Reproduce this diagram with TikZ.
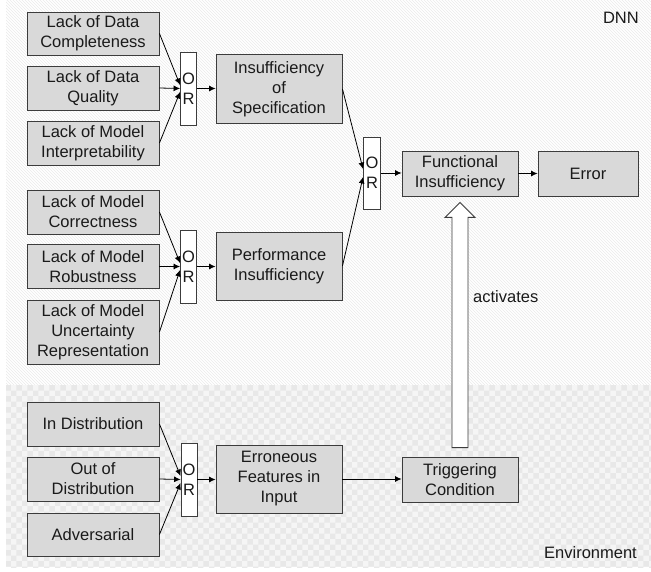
\documentclass[tikz,border=0pt]{standalone}
\usepackage{fontspec}
\setmainfont{Liberation Sans}
\usetikzlibrary{arrows.meta,patterns,calc}
\definecolor{boxfill}{HTML}{D9D9D9}
\definecolor{boxline}{HTML}{3C3C3C}
\definecolor{txt}{HTML}{1A1A1A}
\begin{document}
\begin{tikzpicture}[x=1pt,y=-1pt,
  every node/.style={font=\fontsize{16.5}{20}\selectfont, text=txt},
  cause/.style={draw=boxline, line width=0.9pt, fill=boxfill, rectangle,
    align=center, inner sep=0pt, minimum width=132pt, minimum height=44pt},
  midbox/.style={cause, minimum width=126pt, minimum height=68pt},
  topbox/.style={cause, minimum width=116pt, minimum height=45pt},
  orgate/.style={draw=boxline, line width=0.9pt, fill=white, rectangle,
    align=center, inner sep=0pt, minimum width=16pt, minimum height=73pt},
  link/.style={draw=black, line width=0.8pt, -{Latex[length=6.5pt,width=6pt]}},
  zonelabel/.style={anchor=east, inner sep=0pt}
]
\useasboundingbox (0,0) rectangle (651,572);
% background zones
\fill[white] (6,0) rectangle (651,385);
\fill[pattern=north west lines, pattern color=black!8] (6,0) rectangle (651,385);
\fill[black!4] (6,385) rectangle (651,567);
\fill[pattern=checkerboard, pattern color=black!9] (6,385) rectangle (651,567);
\node[zonelabel] (dnn) at (639,18) {DNN};
\node[zonelabel] (env) at (637,553) {Environment};

% specification branch
\node[cause, minimum height=43pt] (c1) at (93,33.5) {Lack of Data\\Completeness};
\node[cause] (c2) at (93,88) {Lack of Data\\Quality};
\node[cause] (c3) at (93,143) {Lack of Model\\Interpretability};
\node[orgate] (or1) at (188.5,88.5) {O\\R};
\node[midbox, minimum height=69pt] (spec) at (279,89) {Insufficiency\\of\\Specification};

% performance branch
\node[cause] (c4) at (93,212) {Lack of Model\\Correctness};
\node[cause] (c5) at (93,266.5) {Lack of Model\\Robustness};
\node[cause, minimum height=64pt] (c6) at (93,332) {Lack of Model\\Uncertainty\\Representation};
\node[orgate] (or2) at (188.5,266.5) {O\\R};
\node[midbox] (perf) at (279,266) {Performance\\Insufficiency};

% functional insufficiency
\node[orgate, minimum width=17pt, minimum height=72pt] (or3) at (372,173) {O\\R};
\node[topbox] (func) at (460,173.5) {Functional\\Insufficiency};
\node[cause, minimum width=100pt, minimum height=45pt] (err) at (588,173.5) {Error};

% environment branch
\node[cause] (d1) at (93,424) {In Distribution};
\node[cause] (d2) at (93,479) {Out of\\Distribution};
\node[cause, minimum height=43pt] (d3) at (93,534.5) {Adversarial};
\node[orgate] (or4) at (189,479.5) {O\\R};
\node[midbox] (erro) at (279,479) {Erroneous\\Features in\\Input};
\node[topbox] (trig) at (460,479.5) {Triggering\\Condition};

% connectors
\draw[link] (c1.east) -- ([yshift=3.5pt]or1.west);
\draw[link] (c2.east) -- (or1.west);
\draw[link] (c3.east) -- ([yshift=-3.5pt]or1.west);
\draw[link] (or1.east) -- (spec.west |- or1.east);

\draw[link] (c4.east) -- ([yshift=3.5pt]or2.west);
\draw[link] (c5.east) -- (or2.west);
\draw[link] (c6.east) -- ([yshift=-3.5pt]or2.west);
\draw[link] (or2.east) -- (perf.west |- or2.east);

\draw[link] (spec.east) -- ([yshift=4pt]or3.west);
\draw[link] (perf.east) -- ([yshift=-4pt]or3.west);
\draw[link] (or3.east) -- (func.west |- or3.east);
\draw[link] (func.east) -- (err.west);

\draw[link] (d1.east) -- ([yshift=3.5pt]or4.west);
\draw[link] (d2.east) -- (or4.west);
\draw[link] (d3.east) -- ([yshift=-3.5pt]or4.west);
\draw[link] (or4.east) -- (erro.west |- or4.east);
\draw[link] (erro.east) -- (trig.west |- erro.east);

% hollow "activates" arrow
\coordinate (atip) at ([yshift=-6pt]func.south);
\coordinate (abase) at ([yshift=9pt]trig.north);
\draw[draw=boxline, line width=0.9pt, fill=white, line join=miter]
  (atip) -- ($(atip)+(15,15)$) -- ($(atip)+(8,15)$) -- ($(abase)+(8,0)$)
  -- ($(abase)+(-8,0)$) -- ($(atip)+(-8,15)$) -- ($(atip)+(-15,15)$) -- cycle;
\node[anchor=west, inner sep=0pt] (act) at (473,297) {activates};
\end{tikzpicture}
\end{document}
